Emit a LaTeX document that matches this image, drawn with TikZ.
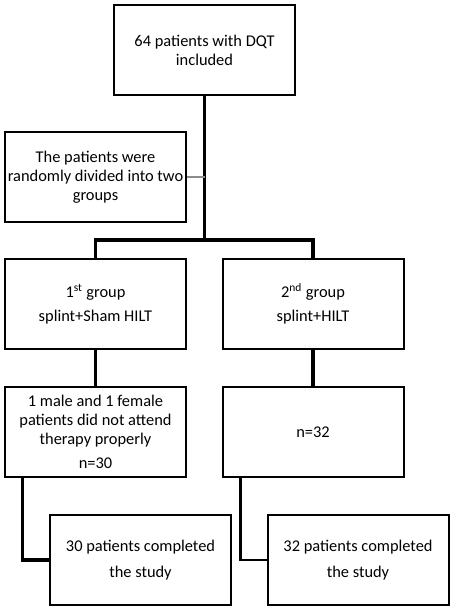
\documentclass[tikz,border=0pt]{standalone}
\usepackage{fontspec}
\setmainfont{Carlito}

\begin{document}
\begin{tikzpicture}[x=0.75pt, y=-0.75pt]
\tikzstyle{entity_box}=[rectangle, draw=black, line width=1.5pt, minimum width=135.75pt, minimum height=67.5pt, align=center, inner sep=1pt, font=\fontsize{12.3}{14.2}\selectfont];
\tikzstyle{link_thick} = [line width=2.6pt, line join=miter]
\tikzstyle{link_thin} = [line width=2.1pt, line join=miter]
\tikzstyle{link_gray} = [line width=1.3pt, draw=black!45]

\useasboundingbox (0,0) rectangle (450,610);

\node [entity_box] at (204.5,50) (Included) {64 patients with DQT\\included};
\node [entity_box] at (95.5,177) (Divided) {The patients were\\randomly divided into two\\groups};
\node [entity_box] at (95.5,304) (Group One) {1\textsuperscript{st} group\\[4pt]splint+Sham HILT};
\node [entity_box] at (313,304) (Group Two) {2\textsuperscript{nd} group\\[4pt]splint+HILT};
\node [entity_box] at (95.5,432) (Lost One) {1 male and 1 female\\patients did not attend\\therapy properly\\[4pt]n=30};
\node [entity_box] at (313,432) (Kept Two) {n=32};
\node [entity_box] at (140.5,560) (Done One) {30 patients completed\\[5pt]the study};
\node [entity_box] at (358,560) (Done Two) {32 patients completed\\[5pt]the study};
\coordinate (Split) at (204.5,240);

\draw[link_thick] (Included) -- (Split);
\draw[link_gray] (Divided.east) -- (Divided.east -| Split);
\draw[link_thick] (Group One.north) |- (Split) -| (Group Two.north);

\draw[link_thick] (Group One) -- (Lost One);
\draw[link_thick] (Group Two) -- (Kept Two);

\draw[link_thick] ([xshift=14pt]Lost One.south west) |- (Done One.west);
\draw[link_thin] ([xshift=14pt]Kept Two.south west) |- (Done Two.west);

\end{tikzpicture}
\end{document}
